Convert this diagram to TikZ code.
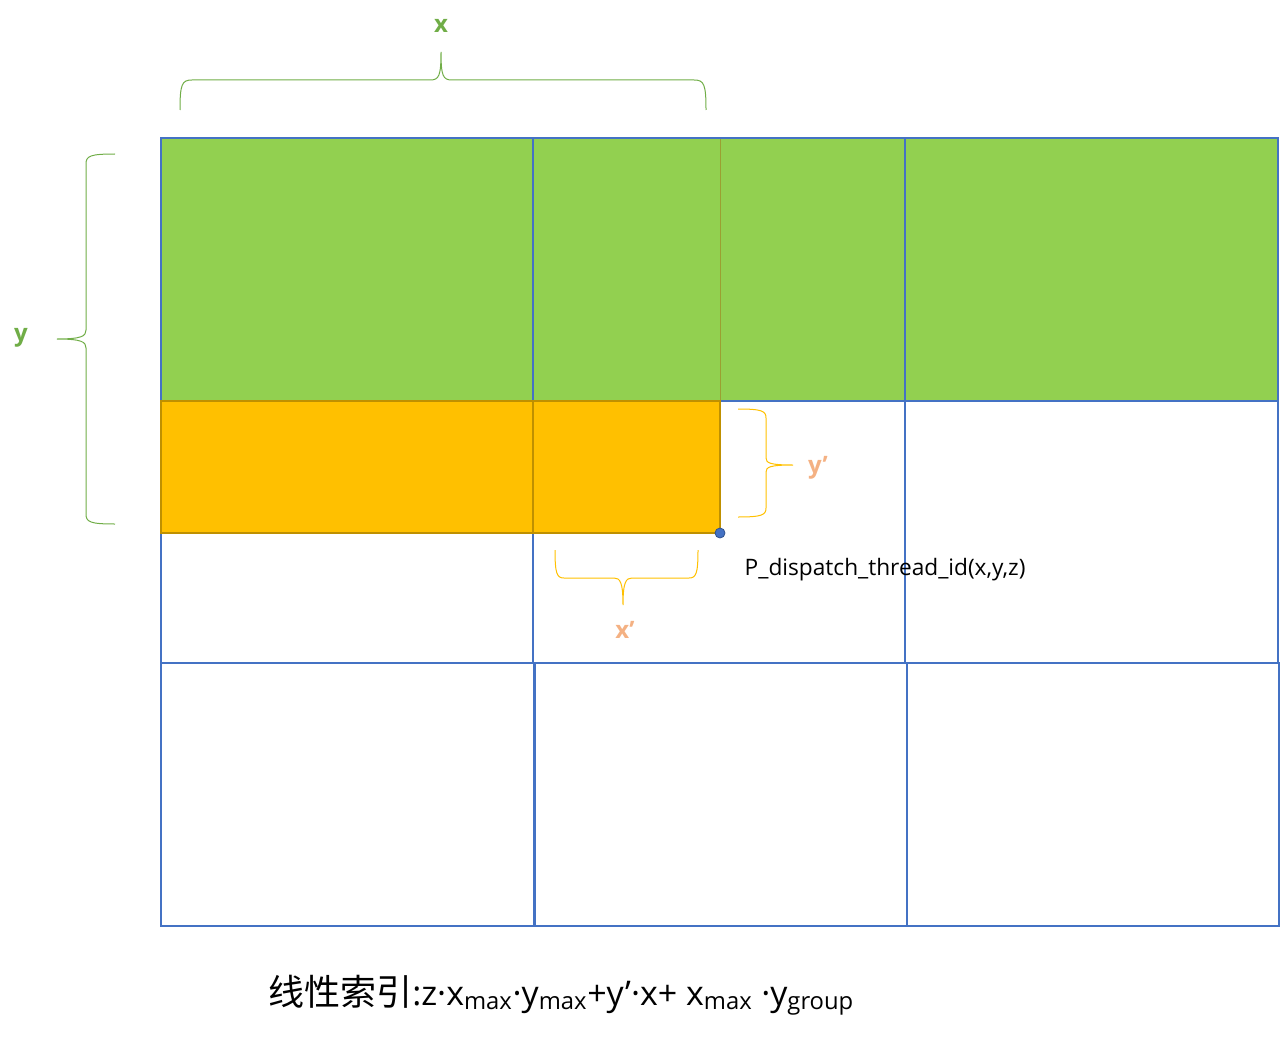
\documentclass[tikz,border=0pt]{standalone}
\usepackage{fontspec}
\setmainfont{Open Sans}
\newfontfamily\cjk{Noto Sans CJK SC}
\usepackage{tikz}
\usetikzlibrary{positioning}
\definecolor{gfill}{HTML}{92D050}
\definecolor{ofill}{HTML}{FFC000}
\definecolor{oline}{HTML}{BF9000}
\definecolor{cellblue}{HTML}{4472C4}
\definecolor{dotline}{HTML}{2F528F}
\definecolor{gbrace}{HTML}{70AD47}
\definecolor{olabel}{HTML}{F4B183}

\begin{document}
\begin{tikzpicture}[x=0.75pt, y=-0.75pt,
		cell/.style={draw=cellblue, line width=1.6pt},
		obox/.style={draw=oline, line width=1.6pt, fill=ofill},
		gbr/.style={draw=gbrace, line width=0.75pt},
		obr/.style={draw=ofill, line width=0.75pt},
		glabel/.style={text=gbrace, font=\fontsize{18}{20}\selectfont\bfseries},
		olab/.style={text=olabel, font=\fontsize{18}{20}\selectfont\bfseries}]
				\useasboundingbox (0,0) rectangle (1280,1038);
				
				% Top row
				\fill[gfill] (161,138) rectangle (1278,401);
				\draw[gbrace!70!orange, line width=0.5pt] (720,138) -- (720,401);
				
				% Cells
				\foreach \r/\s in {138/401, 401/663} {
					\foreach \a/\b in {161/533, 533/905, 905/1278} {
						\draw[cell] (\a,\r) rectangle (\b,\s);
					}
				}
				\foreach \a/\b in {161/534, 535/907, 907/1279} {
					\draw[cell] (\a,663) rectangle (\b,926);
				}
				
				% Group block
				\draw[obox] (161,401) rectangle (720,533);
				\draw[oline, line width=1.6pt] (533,401) -- (533,533);
				\node[circle, fill=cellblue, draw=dotline, line width=0.6pt, inner sep=0pt, minimum size=7.5pt] (P) at (720,533) {};
				\node[anchor=west, font=\fontsize{17}{20}\selectfont] (pid) at (740,570) {P\_dispatch\_thread\_id(x,y,z)};
				
				% Braces
				\draw[gbr] (180,110) .. controls (180,84) and (182,80) .. (192,80) -- (430,80) .. controls (439,80) and (441,76) .. (441,52) .. controls (441,76) and (443,80) .. (452,80) -- (694,80) .. controls (704,80) and (706,84) .. (706,110);
				\draw[gbr] (115,154) .. controls (90,154) and (86,156) .. (86,164) -- (86,330) .. controls (86,336) and (82,339) .. (57,339) .. controls (82,339) and (86,342) .. (86,348) -- (86,514) .. controls (86,522) and (90,524) .. (115,524);
				\draw[obr] (738,409) .. controls (762,409) and (766,411) .. (766,418) -- (766,458) .. controls (766,463) and (770,465) .. (793,465) .. controls (770,465) and (766,467) .. (766,472) -- (766,508) .. controls (766,515) and (762,517) .. (738,517);
				\draw[obr] (555,550) .. controls (555,574) and (557,578) .. (564,578) -- (614,578) .. controls (620,578) and (623,582) .. (623,605) .. controls (623,582) and (626,578) .. (632,578) -- (689,578) .. controls (696,578) and (698,574) .. (698,550);
				\node[glabel] (lx) at (441,26) {x};
				\node[glabel] (ly) at (21,338) {y};
				\node[olab] (lyp) at (818,468) {y’};
				\node[olab] (lxp) at (625,630) {x’};
				
				% Formula
				\node[anchor=base west, inner sep=0pt, font=\fontsize{25.5}{30}\selectfont] (idx) at (268,1005) {{\cjk\fontsize{27}{32}\selectfont 线性索引}:z·x\textsubscript{max}·y\textsubscript{max}+y’·x+ x\textsubscript{max} ·y\textsubscript{group}};
			\end{tikzpicture}
\end{document}
